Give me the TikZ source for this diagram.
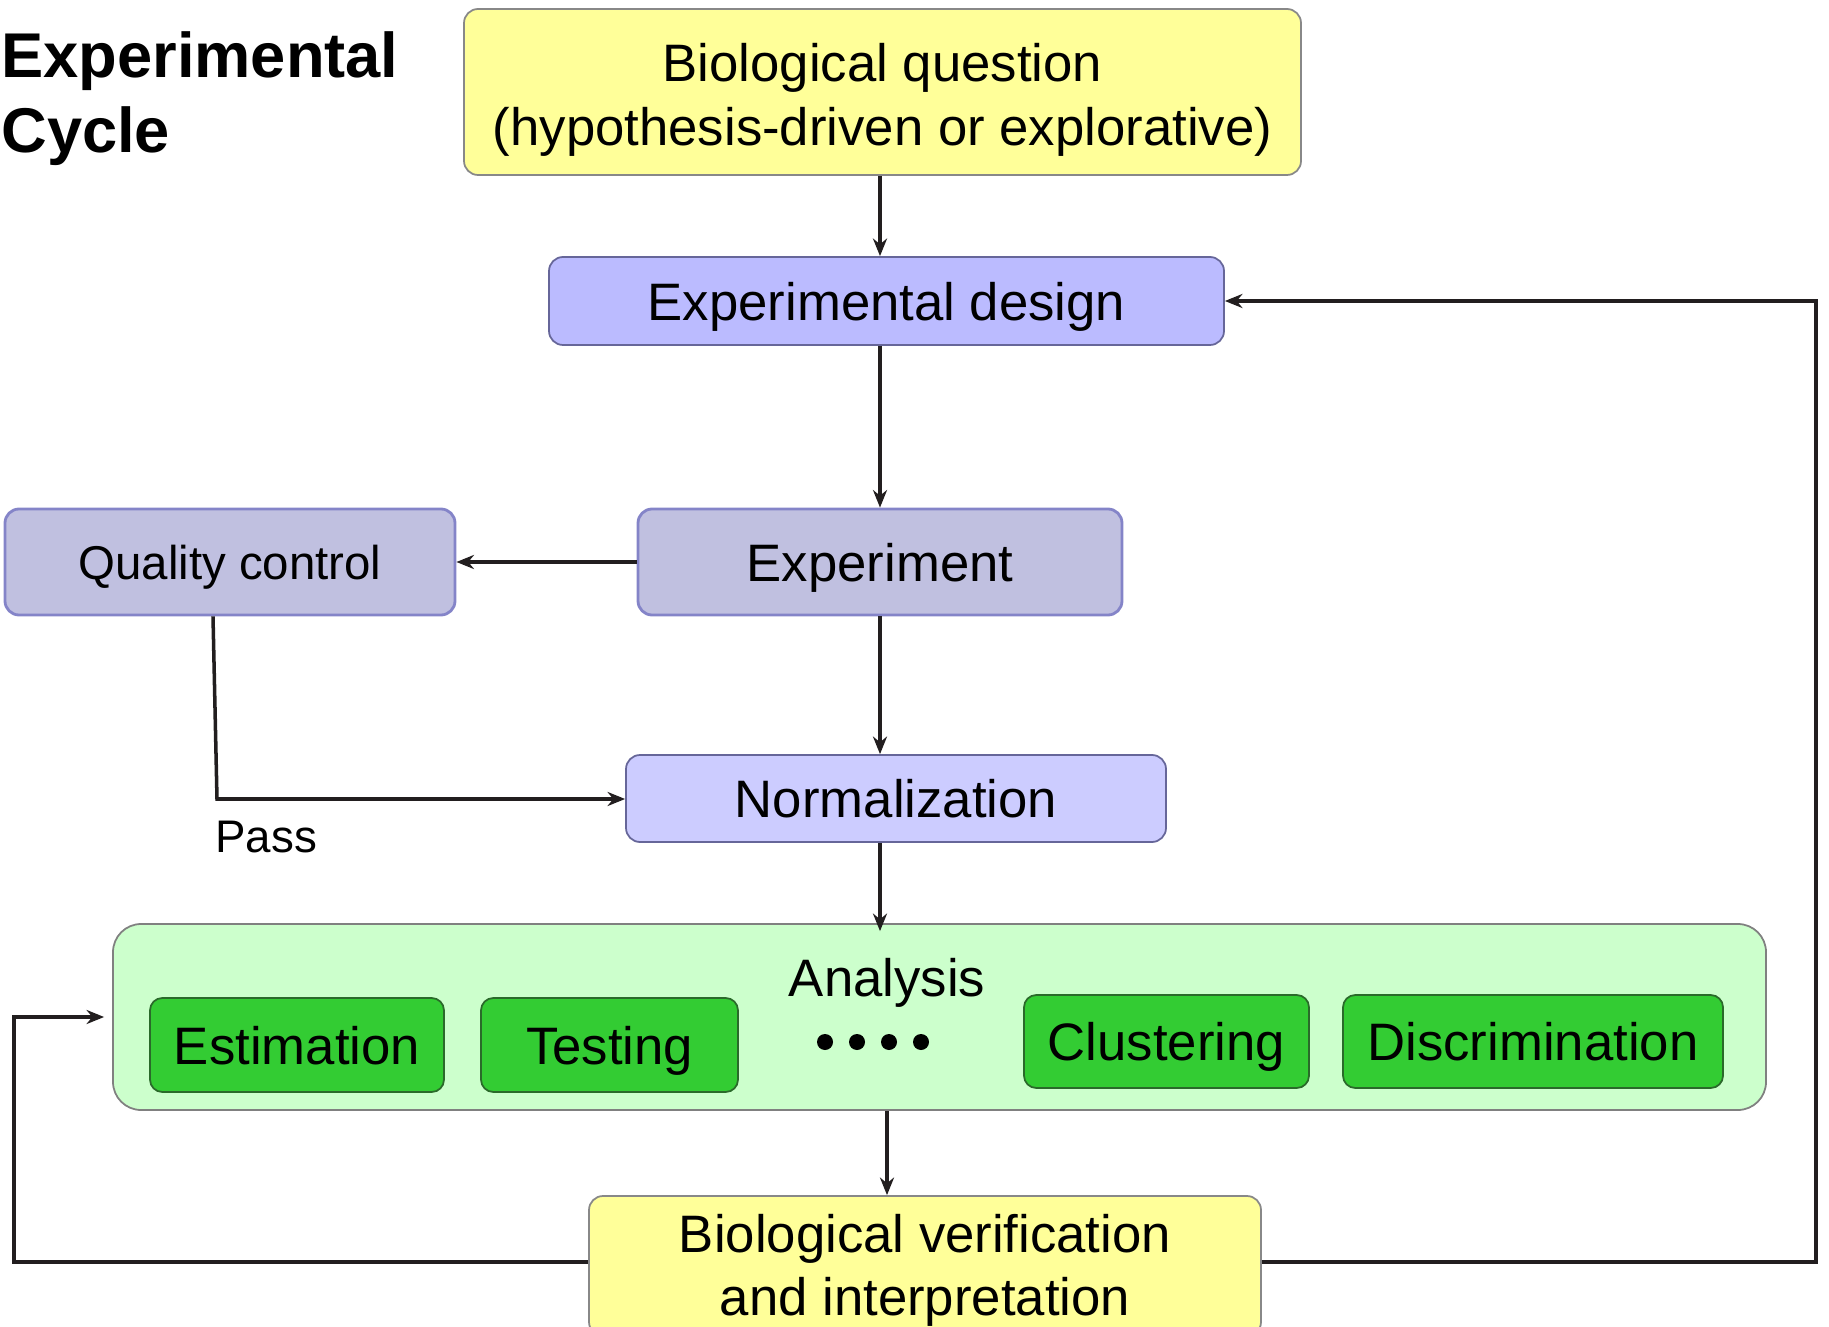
\documentclass[tikz,border=0pt]{standalone}
\usepackage{fontspec}
\setmainfont{Liberation Sans}
\usetikzlibrary{arrows.meta}
\definecolor{yel}{HTML}{FFFF99}
\definecolor{edfill}{HTML}{BBBBFF}
\definecolor{qcfill}{HTML}{C0C0E0}
\definecolor{qcdraw}{HTML}{8484C8}
\definecolor{nmfill}{HTML}{CCCCFF}
\definecolor{anfill}{HTML}{CCFFCC}
\definecolor{grn}{HTML}{33CC33}
\definecolor{grndraw}{HTML}{2A6A2A}
\definecolor{boxdraw}{HTML}{888888}
\definecolor{ln}{HTML}{221E1F}
\tikzset{
  box/.style={rectangle, rounded corners=8pt, draw=boxdraw, line width=1pt, inner sep=0pt,
    font=\fontsize{30}{36}\selectfont, align=center, text depth=0pt},
  yelbox/.style={box, fill=yel},
  edbox/.style={box, fill=edfill, draw=gray!80!blue},
  qcbox/.style={box, fill=qcfill, draw=qcdraw, line width=1.6pt},
  nmbox/.style={box, fill=nmfill, draw=gray!80!blue},
  anbox/.style={box, fill=anfill, draw=gray, rounded corners=16pt},
  gbox/.style={box, fill=grn, draw=grndraw, rounded corners=7pt},
  conn/.style={draw=ln, line width=2pt, -{Stealth[length=10pt,width=8pt]}},
}
\begin{document}
\begin{tikzpicture}[x=0.02cm, y=-0.02cm]
\useasboundingbox (0,0) rectangle (1829,1327);
\node[inner sep=0pt, anchor=north west, align=left, font=\fontsize{36}{43}\selectfont\bfseries] (title) at (1,31) {Experimental\\Cycle};
\node[yelbox, minimum width=837*0.02cm, minimum height=166*0.02cm, text height=0pt, text depth=0.4cm] (bq) at (882.5,92) {\begin{tabular}[t]{@{}c@{}}Biological question\\(hypothesis-driven or explorative)\end{tabular}};
\node[edbox, minimum width=675*0.02cm, minimum height=88*0.02cm] (ed) at (886.5,301) {Experimental design};
\node[qcbox, minimum width=450*0.02cm, minimum height=106*0.02cm, font=\fontsize{27}{32}\selectfont] (qc) at (230,562) {Quality control};
\node[qcbox, minimum width=484*0.02cm, minimum height=106*0.02cm] (ex) at (880,562) {Experiment};
\node[nmbox, minimum width=540*0.02cm, minimum height=87*0.02cm] (nm) at (896,798.5) {Normalization};
\node[anbox, minimum width=1653*0.02cm, minimum height=186*0.02cm] (an) at (939.5,1017) {};
\node[inner sep=0pt, font=\fontsize{30}{36}\selectfont] (anl) at (887,983) {Analysis};
\node[gbox, minimum width=294*0.02cm, minimum height=94*0.02cm] (es) at (297,1045) {Estimation};
\node[gbox, minimum width=257*0.02cm, minimum height=94*0.02cm] (te) at (609.5,1045) {Testing};
\node[gbox, minimum width=285*0.02cm, minimum height=93*0.02cm] (cl) at (1166.5,1041.5) {Clustering};
\node[gbox, minimum width=380*0.02cm, minimum height=93*0.02cm] (di) at (1533,1041.5) {Discrimination};
\node[inner sep=0pt] (dots) at (873,1042) {\tikz[x=0.02cm,y=-0.02cm]{\foreach \i in {0,1,2,3}{\fill (\i*32,0) circle (8);}}};
\node[yelbox, minimum width=672*0.02cm, minimum height=140*0.02cm, text height=0pt, text depth=0.56cm] (bv) at (925,1266) {\begin{tabular}[t]{@{}c@{}}Biological verification\\and interpretation\end{tabular}};
\node[inner sep=0pt, anchor=base west, font=\fontsize{26}{31}\selectfont] (pass) at (215,852) {Pass};
% connectors
\draw[conn] (bq.south -| ex.north) -- (ed.north -| ex.north);
\draw[conn] (ed.south -| ex.north) -- (ex.north);
\draw[conn] (ex.west) -- (qc.east);
\coordinate (qcb) at (217,799);
\draw[conn] (qc.south -| 213,0) -- (qcb) -- (qcb -| nm.west);
\draw[conn] (ex.south) -- (ex.south |- nm.north);
\draw[conn] (nm.south -| ex.south) -- ([yshift=-0.16cm]an.north -| ex.south);
\coordinate (ab) at (887,0);
\draw[conn] (an.south -| ab) -- (bv.north -| ab);
\coordinate (lft) at (14,1262);
\coordinate (rgt) at (1816,1262);
\draw[conn] (bv.west |- lft) -- (lft) -- (lft |- an.west) -- ([xshift=-0.16cm]an.west);
\draw[conn] (bv.east |- rgt) -- (rgt) -- (rgt |- ed.east) -- (ed.east);
\end{tikzpicture}
\end{document}
